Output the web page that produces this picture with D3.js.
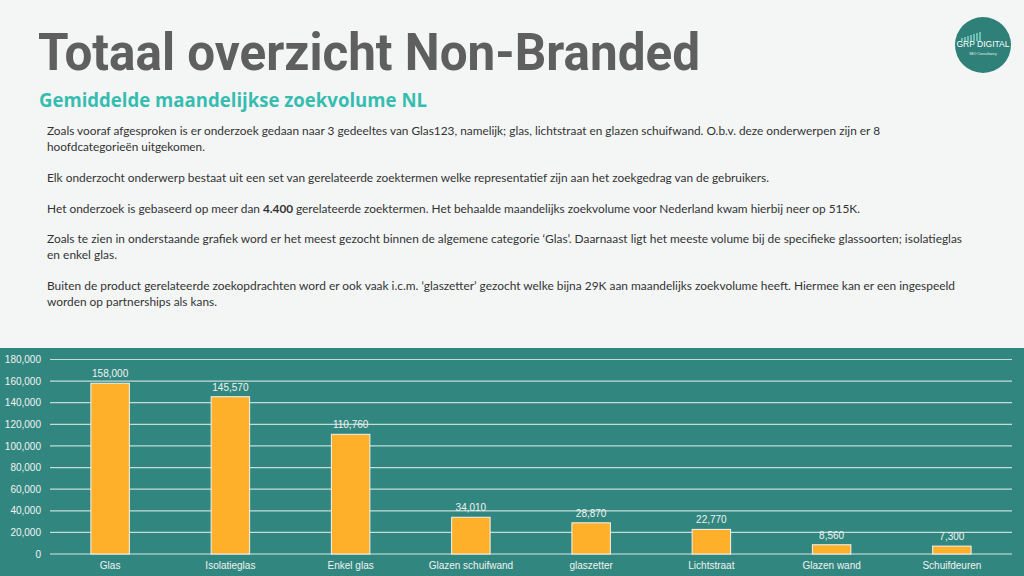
<!DOCTYPE html>
<html><head><meta charset="utf-8">
<script src="https://cdn.jsdelivr.net/npm/d3@7"></script>
<style>html,body{margin:0;padding:0;background:#f4f6f6;}svg{display:block;}</style>
</head><body>
<svg id="c" width="1024" height="576"></svg>
<script>
const categories = ["Glas","Isolatieglas","Enkel glas","Glazen schuifwand","glaszetter","Lichtstraat","Glazen wand","Schuifdeuren"];
const values = [158000,145570,110760,34010,28870,22770,8560,7300];
const yTicks = [0,20000,40000,60000,80000,100000,120000,140000,160000,180000];
const titleText = "Totaal overzicht Non-Branded";
const subtitleText = "Gemiddelde maandelijkse zoekvolume NL";
const paraLines = [
 {t:"Zoals vooraf afgesproken is er onderzoek gedaan naar 3 gedeeltes van Glas123, namelijk; glas, lichtstraat en glazen schuifwand. O.b.v. deze onderwerpen zijn er 8", x:47, y:135, w:833},
 {t:"hoofdcategorieën uitgekomen.", x:47, y:151, w:158},
 {t:"Elk onderzocht onderwerp bestaat uit een set van gerelateerde zoektermen welke representatief zijn aan het zoekgedrag van de  gebruikers.", x:47, y:182, w:722},
 {t:"Het onderzoek is gebaseerd op meer dan", x:47, y:213, w:213},
 {t:"4.400", x:263, y:213, w:30, bold:true},
 {t:"gerelateerde zoektermen. Het behaalde maandelijks zoekvolume voor Nederland kwam hierbij neer op 515K.", x:296, y:213, w:564},
 {t:"Zoals te zien in onderstaande grafiek word er het meest gezocht binnen de algemene categorie ‘Glas’. Daarnaast ligt het meeste volume bij de specifieke glassoorten; isolatieglas", x:47, y:243, w:915},
 {t:"en enkel glas.", x:47, y:259, w:70},
 {t:"Buiten de product gerelateerde zoekopdrachten word er ook vaak i.c.m. ‘glaszetter’ gezocht welke bijna 29K aan maandelijks zoekvolume heeft. Hiermee kan er een ingespeeld", x:47, y:290, w:908},
 {t:"worden op partnerships als kans.", x:47, y:306, w:170}
];

const svg = d3.select("#c");
svg.append("rect").attr("width",1024).attr("height",576).attr("fill","#f4f6f6");

// Title
svg.append("text").attr("x",38).attr("y",70).text(titleText)
  .attr("font-family","Roboto, 'Open Sans', sans-serif").attr("font-weight",700)
  .attr("font-size",52).attr("fill","#5f5f5f")
  .attr("textLength",662).attr("lengthAdjust","spacingAndGlyphs");
svg.append("text").attr("x",39).attr("y",107).text(subtitleText)
  .attr("font-family","'Open Sans', sans-serif").attr("font-weight",700)
  .attr("font-size",19.5).attr("fill","#37bdb0")
  .attr("textLength",388).attr("lengthAdjust","spacingAndGlyphs");

// Paragraphs
paraLines.forEach(l=>{
  const t = svg.append("text").attr("x",l.x).attr("y",l.y)
    .attr("font-family","Lato, 'Open Sans', sans-serif").attr("font-size",12)
    .attr("font-weight", l.bold?700:400)
    .attr("fill","#333").text(l.t);
  const nat = t.node().getComputedTextLength();
  const fs = Math.max(10.5, Math.min(12.5, 12 * l.w / nat));
  t.attr("font-size", fs);
  t.attr("textLength",l.w).attr("lengthAdjust","spacingAndGlyphs");
});

// Logo
const logo = svg.append("g").attr("transform","translate(983,45)");
logo.append("circle").attr("r",28).attr("fill","#2f8079");
[[-22,3],[-19,4],[-16,5],[-13,6],[-10,7],[-7,8],[-4,9]].forEach(b=>{
  logo.append("rect").attr("x",b[0]).attr("y",-4-b[1]).attr("width",2).attr("height",b[1]).attr("fill","#6cc0b3");
});
logo.append("text").attr("x",0).attr("y",2).attr("text-anchor","middle")
  .attr("font-family","'Liberation Sans', Arial, sans-serif").attr("font-size",8.5)
  .attr("fill","#fff").attr("textLength",53).attr("lengthAdjust","spacingAndGlyphs").text("GRP DIGITAL");
logo.append("text").attr("x",0).attr("y",10).attr("text-anchor","middle")
  .attr("font-family","'Liberation Sans', Arial, sans-serif").attr("font-size",3.5)
  .attr("fill","#e8f4f2").text("SEO Consultancy");

// Chart panel
svg.append("rect").attr("x",0).attr("y",348).attr("width",1024).attr("height",228).attr("fill","#31877f");

const x = d3.scaleBand().domain(categories).range([50,1012]).paddingInner(0.68).paddingOuter(0.34);
const y = d3.scaleLinear().domain([0,180000]).range([554,359.5]);

const grid = svg.append("g");
grid.selectAll("line").data(yTicks).join("line")
  .attr("x1",50).attr("x2",1012)
  .attr("y1",d=>y(d)).attr("y2",d=>y(d))
  .attr("stroke",d=>d===0?"#d9e6e3":"#c5dcd8").attr("stroke-width",1.2);

const yAxis = d3.axisLeft(y).tickValues(yTicks).tickFormat(d3.format(",")).tickSize(0).tickPadding(0);
const ya = svg.append("g").attr("transform","translate(41,0)").call(yAxis);
ya.select(".domain").remove();
ya.selectAll("text").attr("font-family","'Liberation Sans', Arial, sans-serif").attr("font-size",10).attr("fill","#f2f2f2");

const xAxis = d3.axisBottom(x).tickSize(0).tickPadding(0);
const xa = svg.append("g").attr("transform","translate(0,562)").call(xAxis);
xa.select(".domain").remove();
xa.selectAll("text").attr("font-family","'Liberation Sans', Arial, sans-serif").attr("font-size",10).attr("fill","#f2f2f2").attr("dy","0.71em");

svg.append("g").selectAll("rect").data(values).join("rect")
  .attr("x",(d,i)=>x(categories[i])).attr("width",x.bandwidth())
  .attr("y",d=>y(d)).attr("height",d=>y(0)-y(d))
  .attr("fill","#ffb02a").attr("stroke","#f3f3f3").attr("stroke-width",1);

svg.append("g").selectAll("text").data(values).join("text")
  .attr("x",(d,i)=>x(categories[i])+x.bandwidth()/2).attr("y",d=>y(d)-6)
  .attr("text-anchor","middle").attr("font-family","'Liberation Sans', Arial, sans-serif")
  .attr("font-size",10).attr("fill","#f2f2f2").text(d=>d3.format(",")(d));
</script>
</body></html>
